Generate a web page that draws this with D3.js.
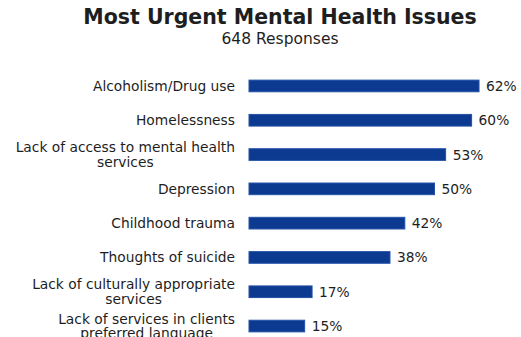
<!DOCTYPE html>
<html>
<head>
<meta charset="utf-8">
<script src="https://cdn.jsdelivr.net/npm/d3@7"></script>
<style>
  html, body { margin: 0; padding: 0; background: #ffffff; }
  svg { display: block; }
  text { font-family: "DejaVu Sans", Verdana, sans-serif; fill: #1e1e1e; }
</style>
</head>
<body>
<svg id="chart" width="521" height="337"></svg>
<script>
// Survey results: share of respondents naming each issue as most urgent
const categories = [
  "Alcoholism/Drug use",
  "Homelessness",
  "Lack of access to mental health services",
  "Depression",
  "Childhood trauma",
  "Thoughts of suicide",
  "Lack of culturally appropriate services",
  "Lack of services in clients preferred language"
];
const percents = [62, 60, 53, 50, 42, 38, 17, 15];
const titleText = "Most Urgent Mental Health Issues";
const subtitleText = "648 Responses";

const svg = d3.select("#chart");

svg.append("text")
  .attr("x", 280).attr("y", 24)
  .attr("text-anchor", "middle")
  .style("font-size", "20.5px").style("font-weight", "bold")
  .text(titleText);

svg.append("text")
  .attr("x", 280).attr("y", 44)
  .attr("text-anchor", "middle")
  .style("font-size", "15.5px")
  .text(subtitleText);

const x = d3.scaleLinear().domain([0, 100]).range([249, 620]);
const y = d3.scaleBand()
  .domain(categories)
  .range([68.8, 343.2])
  .paddingInner(0.66)
  .paddingOuter(0.33);

const labelRight = 235;
const wrapWidth = 224;
const lineHeight = 14.5;

// Category labels, wrapped onto centred lines when too wide
categories.forEach(cat => {
  const cy = y(cat) + y.bandwidth() / 2;
  const probe = svg.append("text").style("font-size", "13.8px");
  const words = cat.split(" ");
  const lines = [];
  let cur = [];
  words.forEach(w => {
    const trial = cur.concat([w]).join(" ");
    probe.text(trial);
    if (cur.length && probe.node().getComputedTextLength() > wrapWidth) {
      lines.push(cur.join(" "));
      cur = [w];
    } else {
      cur.push(w);
    }
  });
  lines.push(cur.join(" "));
  const widths = lines.map(l => { probe.text(l); return probe.node().getComputedTextLength(); });
  probe.remove();
  const maxW = d3.max(widths);
  const t = svg.append("text")
    .style("font-size", "13.8px")
    .attr("text-anchor", lines.length > 1 ? "middle" : "end");
  const ax = lines.length > 1 ? labelRight - maxW / 2 : labelRight;
  const top = cy - (lines.length - 1) * lineHeight / 2;
  lines.forEach((l, i) => {
    t.append("tspan")
      .attr("x", ax)
      .attr("y", top + i * lineHeight)
      .attr("dy", "0.36em")
      .text(l);
  });
});

// Bars
svg.selectAll("rect.bar")
  .data(categories)
  .join("rect")
  .attr("class", "bar")
  .attr("x", x(0))
  .attr("y", d => y(d))
  .attr("width", (d, i) => x(percents[i]) - x(0))
  .attr("height", y.bandwidth())
  .attr("fill", "#0b3a90")
  .attr("stroke", "#2452a8")
  .attr("stroke-width", 1);

// Value labels
svg.selectAll("text.val")
  .data(categories)
  .join("text")
  .attr("class", "val")
  .attr("x", (d, i) => x(percents[i]) + 7)
  .attr("y", d => y(d) + y.bandwidth() / 2)
  .attr("dy", "0.36em")
  .style("font-size", "13.8px")
  .text((d, i) => percents[i] + "%");
</script>
</body>
</html>
